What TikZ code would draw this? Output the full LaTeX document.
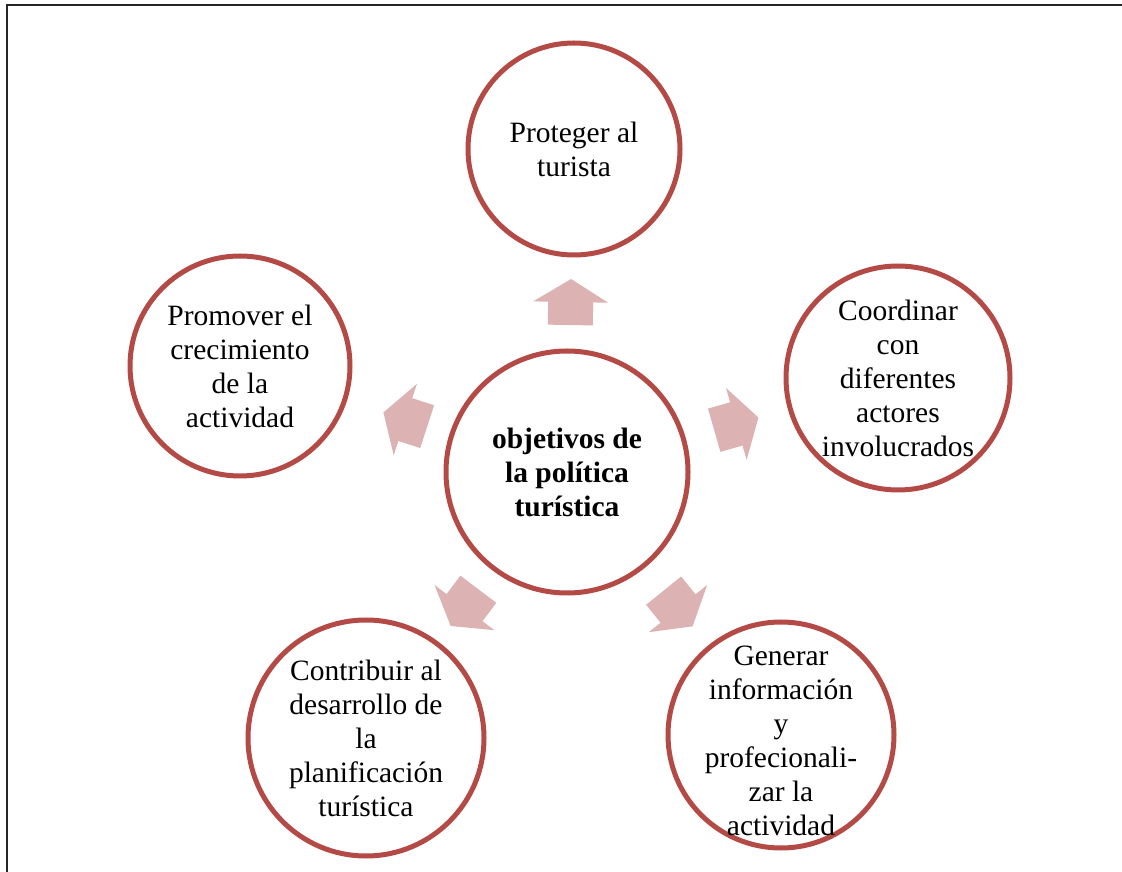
\documentclass[tikz,border=0pt]{standalone}
\usepackage{fontspec}
\setmainfont{Liberation Serif}
\usetikzlibrary{calc}

\definecolor{rojoanillo}{RGB}{180,74,70}
\definecolor{rosaflecha}{RGB}{220,178,178}

\tikzset{
    anillo/.style={circle, draw=rojoanillo, line width=5pt, inner sep=0pt},
    texto/.style={align=center, inner sep=0pt, font=\fontsize{29.5}{34}\selectfont},
    flecha/.style={fill=rosaflecha},
}

\begin{document}
\begin{tikzpicture}[x=1pt,y=1pt]
    \useasboundingbox (0,0) rectangle (1122,871);
    \clip (0,0) rectangle (1122,871);
    \draw[line width=2pt, black!85] (7,-10) -- (7,866) -- (1140,866);

    % circulo central
    \node[anillo, minimum size=242pt] (obj) at (567,399) {};
    \node[texto, font=\fontsize{29.5}{34}\selectfont\bfseries] (obj-t) at (obj) {objetivos de\\la política\\turística};

    % circulos exteriores
    \node[anillo, minimum size=212pt] (prot) at (574,722) {};
    \node[texto] (prot-t) at (prot) {Proteger al\\turista};
    \node[anillo, minimum size=220pt] (prom) at (240,505) {};
    \node[texto] (prom-t) at (prom) {Promover el\\crecimiento\\de la\\actividad};
    \node[anillo, minimum size=224pt] (coor) at (898,493) {};
    \node[texto] (coor-t) at (coor) {Coordinar\\con\\diferentes\\actores\\involucrados};
    \node[anillo, minimum size=236pt] (cont) at (366,133) {};
    \node[texto] (cont-t) at (cont) {Contribuir al\\desarrollo de\\la\\planificación\\turística};
    \node[anillo, minimum size=226pt] (gen) at (781,136) {};
    \node[texto] (gen-t) at ($(gen)+(0,-6)$) {Generar\\información\\y\\profecionali-\\zar la\\actividad};

    % flechas
    \foreach \n/\a/\d in {prot/89/170, prom/162/170, coor/16/176, cont/233/170, gen/309/176}
        \fill[flecha, shift={($(obj)!\d pt!(\n)$)}, rotate=\a]
            (-23,-22.5) -- (0,-22.5) -- (0,-37.5) -- (23,0) -- (0,37.5) -- (0,22.5) -- (-23,22.5) -- cycle;
\end{tikzpicture}
\end{document}
